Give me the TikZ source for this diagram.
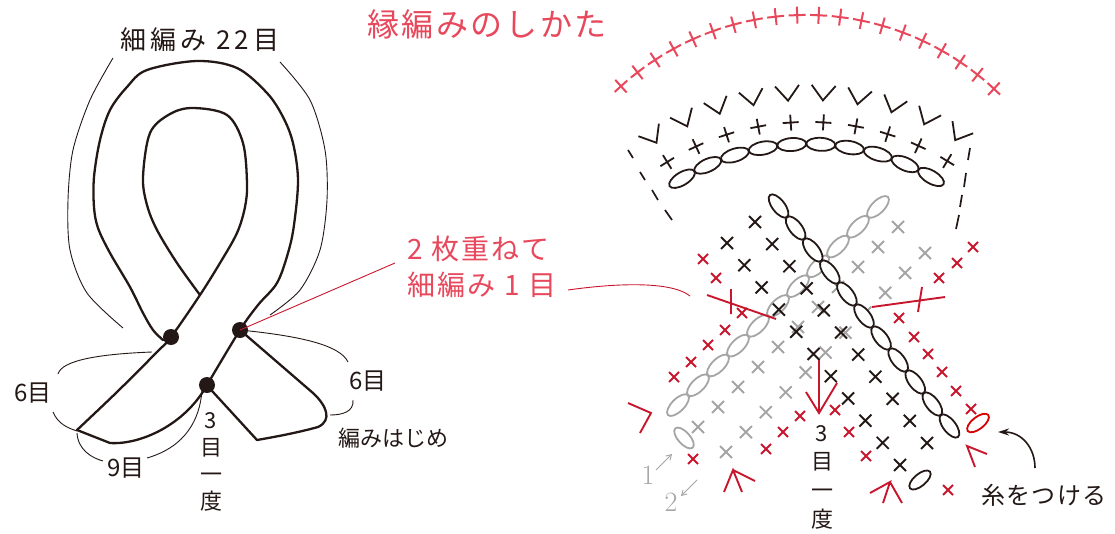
\documentclass[tikz,border=0pt]{standalone}
\usepackage{fontspec}
\newfontfamily\jp{Noto Sans CJK JP}
\usetikzlibrary{arrows.meta}
\definecolor{pinkred}{RGB}{232,72,92}
\definecolor{dred}{RGB}{200,22,45}
\definecolor{lgray}{RGB}{165,165,165}
\definecolor{ink}{RGB}{35,24,21}
\begin{document}
\begin{tikzpicture}[x=1pt,y=-1pt,
  rib/.style={draw=ink,line width=2.3pt,line join=round,line cap=round},
  thinl/.style={draw=ink,line width=0.9pt},
  bx/.style={draw=ink,line width=1.9pt},
  gx/.style={draw=lgray,line width=1.9pt},
  rx/.style={draw=dred,line width=1.9pt},
  px/.style={draw=pinkred,line width=2pt},
  dsh/.style={draw=ink,line width=1.7pt},
  lab/.style={text=ink,inner sep=0pt,align=center},
  rlab/.style={text=pinkred,inner sep=0pt,anchor=west,font=\jp\fontsize{28}{32}\selectfont\addfontfeature{LetterSpace=8}},
  lead/.style={draw=dred,line width=0.9pt}
]
\useasboundingbox (0,0) rectangle (1115,533);

% ---------------- left ribbon ----------------
\coordinate (dL) at (171,337);
\coordinate (dR) at (240,330);
\coordinate (dB) at (207,385);

\draw[rib] plot[smooth,tension=0.55] coordinates {(77,430) (117,392) (157,352) (171,337) (200,295) (220,263) (237,233) (245,207) (247,183) (243,143) (227,115) (193,108) (170,114) (150,133) (143,177) (147,205) (157,230) (177,263) (200,295)};
\draw[rib] plot[smooth,tension=0.55] coordinates {(207,385) (240,330) (258,305) (277,283) (288,253) (294,225) (298,180) (293,143) (283,117) (267,93) (237,68) (197,61) (147,70) (127,87) (110,110) (100,140) (94,177) (94,207) (98,228) (110,253) (130,287) (143,313) (153,330) (163,340)};
\draw[rib] (dR) -- (313,393) .. controls (326,405) and (333,420) .. (318,427) .. controls (300,432) and (280,436) .. (257,440) -- (213,392) -- (dB);
\draw[rib] (77,430) -- (110,443) .. controls (140,445) and (185,425) .. (dB);
\fill[ink] (dL) circle[radius=8pt] (dR) circle[radius=8pt] (dB) circle[radius=8pt];

% thin annotation arcs
\draw[thinl] plot[smooth] coordinates {(113,58) (90,100) (73,150) (68,200) (70,250) (87,293) (123,328)};
\draw[thinl] plot[smooth] coordinates {(280,62) (310,100) (325,150) (327,200) (320,250) (300,290) (270,315)};
\draw[thinl] (152,352) .. controls (100,354) and (62,360) .. (58,374);
\draw[thinl] (53,412) .. controls (58,424) and (68,428) .. (77,431);
\draw[thinl] (77,433) .. controls (78,450) and (92,458) .. (103,461);
\draw[thinl] (147,458) .. controls (185,447) and (200,420) .. (202,390);
\draw[thinl] (dR) .. controls (300,336) and (340,345) .. (348,362);
\draw[thinl] (353,400) .. controls (354,412) and (342,415) .. (330,415);

% left labels
\node[lab,font=\jp\fontsize{26}{30}\selectfont\addfontfeature{LetterSpace=15}] (l22) at (200,40) {細編み 22目};
\node[lab,font=\jp\fontsize{24}{28}\selectfont] (l6a) at (33,393) {6目};
\node[lab,font=\jp\fontsize{24}{28}\selectfont] (l6b) at (368,381) {6目};
\node[lab,font=\jp\fontsize{24}{28}\selectfont] (l9) at (126,468) {9目};
\node[lab,font=\jp\fontsize{22}{27}\selectfont] (l3a) at (211,462) {3\\目\\一\\度};
\node[lab,font=\jp\fontsize{22}{26}\selectfont] (lstart) at (393,438) {編みはじめ};

% red labels and leader
\node[lab,font=\jp\fontsize{32}{36}\selectfont\addfontfeature{LetterSpace=8},text=pinkred] (title) at (487,24) {縁編みのしかた};
\node[rlab] (lblA) at (407,249) {2 枚重ねて};
\node[rlab] (lblB) at (407,285) {細編み 1 目};
\coordinate (ldA) at (395,263);
\coordinate (ldB) at (690,296);
\draw[lead] (dR) -- (ldA);
\draw[lead] (568,290) .. controls (610,284) and (670,280) .. (ldB);

% ---------------- top arcs ----------------
\foreach \i in {0,...,19}{
  \pgfmathsetmacro\a{132.1-\i*85/19}
  \draw[px,shift={({806+276*cos(\a)},{291-276*sin(\a)})},rotate=\a] (-8.5,0)--(8.5,0) (0,-8.5)--(0,8.5);
}
\foreach \i in {0,...,9}{
  \pgfmathsetmacro\a{121.5-\i*62/9}
  \draw[bx,line width=1.8pt,line join=miter,shift={({808+290*cos(\a)},{390-290*sin(\a)})},rotate=\a-90] (-12,-15)--(0,0)--(12,-15);
  \pgfmathsetmacro\b{121.7-\i*63/9}
  \draw[bx,line width=1.8pt,shift={({808+268*cos(\b)},{390-268*sin(\b)})},rotate=\b] (-8,0)--(8,0) (0,-8)--(0,8);
  \pgfmathsetmacro\c{120.8-\i*60.8/9}
  \draw[bx,line width=1.8pt,shift={({808+246*cos(\c)},{390-246*sin(\c)})},rotate=\c-90] (0,0) ellipse[x radius=14.5pt,y radius=6.5pt];
}
% dashed sides
\draw[dsh] (628,150)--(633,158) (640,172)--(645,180) (652,190)--(658,200) (665,210)--(672,220);
\draw[dsh] (970,148)--(968,160) (966,173)--(964,187) (962,195)--(960,207) (959,215)--(956,229);

% ---------------- crossing ----------------
\foreach \k in {0,...,10}{
  \draw[gx,shift={({898-\k*20},{227+\k*20})}] (-6,-6)--(6,6) (-6,6)--(6,-6);
  \draw[gx,shift={({925-\k*19.9},{253+\k*19.9})}] (-6,-6)--(6,6) (-6,6)--(6,-6);
}
\foreach \k in {0,...,10}{
  \draw[gx,line width=1.8pt,shift={({888-(\k+0.5)*220/11},{197+(\k+0.5)*218/11})},rotate=44.7] (0,0) ellipse[x radius=14.1pt,y radius=6.3pt];
}
\draw[gx,line width=1.8pt,shift={(684,438)},rotate=-48] (0,0) ellipse[x radius=13pt,y radius=6pt];
\foreach \k in {0,...,10}{
  \draw[bx,fill=white,line width=1.8pt,shift={({770+(\k+0.5)*188/11},{195+(\k+0.5)*242/11})},rotate=-52.2] (0,0) ellipse[x radius=13.9pt,y radius=6.3pt];
}
\foreach \k in {0,...,10}{
  \draw[bx,shift={({755+\k*17.2},{222+\k*22.1})}] (-6,-6)--(6,6) (-6,6)--(6,-6);
  \draw[bx,shift={({727+\k*17.3},{243+\k*22.2})}] (-6,-6)--(6,6) (-6,6)--(6,-6);
}
\draw[bx,line width=1.8pt,shift={(920,480)},rotate=40] (0,0) ellipse[x radius=13pt,y radius=6pt];

% red stitches
\foreach \p in {(703,259),(716,278),(742,313),(725,330),(708,345),(691,362),(674,377),(693,459),(800,416),(783,432),(766,449),(835,410),(849,432),(866,456),(973,247),(957,263),(939,278),(899,318),(914,337),(928,354),(942,372),(956,391),(971,409),(948,490)}{
  \draw[rx,shift={\p}] (-5,-5)--(5,5) (-5,5)--(5,-5);
}
\draw[draw=red!85!black,line width=1.8pt,shift={(978,423)},rotate=38] (0,0) ellipse[x radius=13pt,y radius=6pt];
\draw[rx] (707,295)--(776,319) (731,289)--(731,314);
\draw[rx] (872,307)--(945,297) (922,287)--(918,312);
\draw[rx] (628,403)--(651,413)--(640,433);
\draw[rx] (724,492)--(733,470)--(742,492) (733,470)--(755,481);
\draw[rx] (870,493)--(890,482)--(883,503) (890,482)--(902,503);
\draw[rx] (987,454)--(967,446)--(975,467);
\draw[rx] (819,360)--(819,413) (806,392)--(819,413)--(837,383);

% right labels
\node[lab,font=\jp\fontsize{22}{28.7}\selectfont] (l3b) at (822,477) {3\\目\\一\\度};
\node[lab,font=\jp\fontsize{24}{28}\selectfont\addfontfeature{LetterSpace=6}] (lthread) at (1044,495) {糸をつける};
\coordinate (thA) at (1035,468);
\coordinate (thB) at (998,432);
\draw[ink,line width=1.6pt,-{Stealth[length=11pt,width=7pt]}] (thA) .. controls (1035,448) and (1022,432) .. (thB);
\node[lab,text=lgray,font=\fontsize{28}{30}\selectfont] (n1) at (648,475) {1};
\node[lab,text=lgray,font=\fontsize{28}{30}\selectfont] (n2) at (671,502) {2};
\coordinate (a1s) at (656,470);
\coordinate (a1e) at (672,454);
\coordinate (a2s) at (697,480);
\coordinate (a2e) at (681,496);
\draw[lgray,line width=0.9pt,-{Straight Barb[length=5pt,width=6pt]}] (a1s) -- (a1e);
\draw[lgray,line width=0.9pt,-{Straight Barb[length=5pt,width=6pt]}] (a2s) -- (a2e);
\end{tikzpicture}
\end{document}
